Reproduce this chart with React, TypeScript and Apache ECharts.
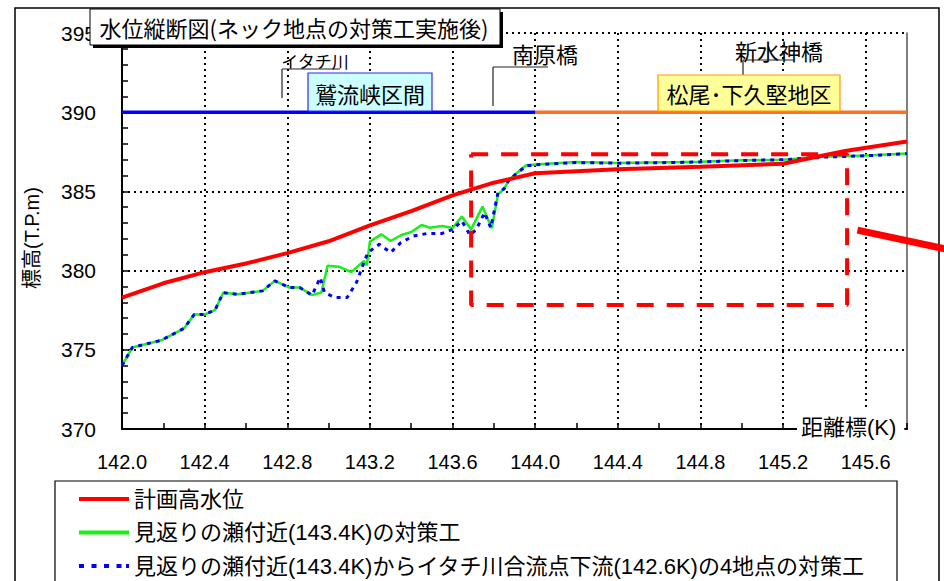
import React, { useEffect, useRef } from 'react';
import * as echarts from 'echarts';

// Axis ranges / tick spacing
const X_MIN = 142.0;
const X_MAX = 145.8;
const X_STEP = 0.4;
const Y_MIN = 370;
const Y_MAX = 395;
const Y_STEP = 5;

const SERIES_NAMES = [
  '計画高水位',
  '見返りの瀬付近(143.4K)の対策工',
  '見返りの瀬付近(143.4K)からイタチ川合流点下流(142.6K)の4地点の対策工',
];

// 計画高水位
const planK = [142.0, 142.2, 142.4, 142.6, 142.8, 143.0, 143.2, 143.4, 143.6, 143.8, 144.0, 144.4, 144.8, 145.2, 145.5, 145.8];
const planV = [378.3, 379.2, 379.9, 380.45, 381.1, 381.85, 382.85, 383.75, 384.75, 385.55, 386.15, 386.4, 386.55, 386.75, 387.55, 388.15];

// 見返りの瀬付近(143.4K)の対策工
const greenK = [142.0, 142.05, 142.19, 142.3, 142.35, 142.4, 142.45, 142.49, 142.56, 142.68, 142.74, 142.81, 142.86, 142.92, 142.965, 142.995, 143.05, 143.11, 143.17, 143.185, 143.2, 143.255, 143.3, 143.35, 143.4, 143.45, 143.49, 143.55, 143.6, 143.645, 143.69, 143.745, 143.79, 143.82, 143.85, 143.875, 143.955, 144.0, 144.2, 144.4, 144.7, 144.8, 145.0, 145.2, 145.39, 145.6, 145.8];
const greenV = [374.0, 375.15, 375.6, 376.35, 377.23, 377.23, 377.5, 378.6, 378.5, 378.72, 379.35, 378.93, 378.93, 378.45, 378.62, 380.3, 380.25, 379.9, 380.6, 380.34, 381.83, 382.29, 381.87, 382.23, 382.44, 382.88, 382.71, 382.81, 382.69, 383.41, 382.6, 384.04, 382.67, 384.81, 385.17, 385.76, 386.64, 386.7, 386.85, 386.8, 386.85, 386.87, 386.97, 387.0, 387.18, 387.27, 387.4];

// 見返りの瀬付近(143.4K)からイタチ川合流点下流(142.6K)の4地点の対策工
const blueK = [142.0, 142.05, 142.19, 142.3, 142.35, 142.4, 142.45, 142.49, 142.56, 142.68, 142.74, 142.81, 142.86, 142.92, 142.96, 142.98, 143.03, 143.09, 143.135, 143.165, 143.19, 143.245, 143.3, 143.35, 143.41, 143.48, 143.55, 143.6, 143.645, 143.685, 143.715, 143.755, 143.785, 143.82, 143.85, 143.875, 143.955, 144.0, 144.2, 144.4, 144.7, 144.8, 145.0, 145.2, 145.39, 145.6, 145.8];
const blueV = [374.0, 375.15, 375.6, 376.35, 377.23, 377.23, 377.5, 378.6, 378.5, 378.72, 379.35, 378.93, 378.93, 378.45, 379.56, 378.62, 378.3, 378.3, 379.25, 380.3, 381.14, 381.66, 381.14, 381.77, 382.18, 382.35, 382.35, 382.6, 383.13, 382.23, 382.6, 383.66, 382.71, 384.92, 385.17, 385.76, 386.6, 386.68, 386.82, 386.78, 386.83, 386.86, 386.95, 387.0, 387.16, 387.25, 387.38];

// Section bands at elevation 390
const SECTION_LEVEL = 390;
const sectionBlueK = [142.0, 144.0];
const sectionOrangeK = [144.0, 145.8];

// Red dashed focus box and pointer
const focusBoxK = [143.69, 145.51];
const focusBoxV = [377.83, 387.34];
const pointerK = [145.56, 146.01];
const pointerV = [382.56, 381.3];

const zip = (k: number[], v: number[]) => k.map((x, i) => [x, v[i]]);

const FONT = "'Liberation Sans', 'Noto Sans CJK JP', sans-serif";
const JP = "'Noto Sans CJK JP', 'Liberation Sans', sans-serif";

const DOTTED_ICON = 'path://M0 0h5v4h-5zM12.5 0h5v4h-5zM25 0h5v4h-5zM37.5 0h5v4h-5zM47 0h3v4h-3z';

export default function App() {
  const ref = useRef<HTMLDivElement>(null);

  useEffect(() => {
    document.body.style.margin = '0';
    if (!ref.current) return;
    const chart = echarts.init(ref.current, null, { renderer: 'svg' });

    const dotted = { color: '#000', width: 2, type: [2, 4] as any };
    const box = [
      [focusBoxK[0], focusBoxV[1]],
      [focusBoxK[1], focusBoxV[1]],
      [focusBoxK[1], focusBoxV[0]],
      [focusBoxK[0], focusBoxV[0]],
      [focusBoxK[0], focusBoxV[1]],
    ];

    const txt = (x: number, y: number, text: string, fontSize: number, extra: any = {}, el: any = {}) => ({
      type: 'text',
      z: 100,
      x,
      y,
      ...el,
      style: {
        text,
        fontSize,
        fontFamily: JP,
        fill: '#000',
        align: 'center',
        verticalAlign: 'middle',
        ...extra,
      },
    });
    const ln = (x1: number, y1: number, x2: number, y2: number) => ({
      type: 'line',
      z: 100,
      shape: { x1, y1, x2, y2 },
      style: { stroke: '#222', lineWidth: 1.2 },
    });

    const graphics: any[] = [
      { type: 'rect', z: 100, shape: { x: 15, y: 8, width: 924, height: 620 }, style: { fill: 'none', stroke: '#000', lineWidth: 1.5 } },
      // title box with shadow
      { type: 'rect', z: 100, shape: { x: 93, y: 12, width: 410, height: 36 }, style: { fill: '#000' } },
      { type: 'rect', z: 101, shape: { x: 90, y: 9, width: 410, height: 36 }, style: { fill: '#fff', stroke: '#000', lineWidth: 1 } },
      { ...txt(294, 27, '水位縦断図(ネック地点の対策工実施後)', 22), z: 102 },
      // イタチ川
      txt(315, 60, 'イタチ川', 17),
      ln(282, 69, 340, 69),
      ln(282, 69, 282, 98),
      // 鷲流峡区間
      { type: 'rect', z: 100, shape: { x: 308, y: 73, width: 124, height: 38 }, style: { fill: '#ccffff', stroke: '#2a2aff', lineWidth: 1.2 } },
      txt(370, 93, '鷲流峡区間', 22),
      // 南原橋
      txt(545, 53, '南原橋', 22),
      ln(493, 67, 548, 67),
      ln(493, 67, 493, 106),
      // 新水神橋
      txt(779, 50, '新水神橋', 22),
      ln(743, 60, 795, 60),
      ln(743, 60, 743, 77),
      // 松尾･下久堅地区
      { type: 'rect', z: 100, shape: { x: 658, y: 75, width: 182, height: 36 }, style: { fill: '#ffff99', stroke: '#ff9900', lineWidth: 1.2 } },
      txt(749, 93, '松尾･下久堅地区', 22),
      // x-axis name
      {
        type: 'text',
        z: 100,
        x: 797,
        y: 427,
        style: {
          text: '距離標(K)',
          fontSize: 22,
          fontFamily: FONT,
          fill: '#000',
          align: 'left',
          verticalAlign: 'middle',
          backgroundColor: '#fff',
          padding: [12, 8, 3, 4],
        },
      },
      // legend box
      { type: 'rect', z: 100, shape: { x: 55, y: 481, width: 842, height: 140 }, style: { fill: 'none', stroke: '#000', lineWidth: 1.2 } },
    ];

    const option: any = {
      animation: false,
      textStyle: { fontFamily: FONT },
      grid: { left: 122, right: 37, top: 33, bottom: 152 },
      legend: {
        data: [
          { name: SERIES_NAMES[0], icon: 'rect' },
          { name: SERIES_NAMES[1], icon: 'rect' },
          { name: SERIES_NAMES[2], icon: DOTTED_ICON },
        ],
        orient: 'vertical',
        left: 79,
        top: 488,
        height: 120,
        padding: 0,
        itemWidth: 50,
        itemHeight: 4,
        itemGap: 11.5,
        itemStyle: { borderWidth: 0 },
        textStyle: { fontSize: 22, color: '#000', fontFamily: FONT },
        selectedMode: false,
      },
      xAxis: {
        type: 'value',
        min: X_MIN,
        max: X_MAX,
        interval: X_STEP,
        axisLine: { show: true, onZero: false, lineStyle: { color: '#000', width: 2 } },
        axisTick: { show: true, inside: true, length: 6, lineStyle: { color: '#000', width: 1.5 } },
        minorTick: { show: true, splitNumber: 2, length: 6, lineStyle: { color: '#000', width: 1.5 } },
        axisLabel: {
          fontSize: 20,
          color: '#000',
          margin: 23,
          fontFamily: FONT,
          showMaxLabel: false,
          formatter: (v: number) => v.toFixed(1),
        },
        splitLine: { show: true, showMinLine: false, showMaxLine: false, lineStyle: dotted },
      },
      yAxis: [
        {
          type: 'value',
          min: Y_MIN,
          max: Y_MAX,
          interval: Y_STEP,
          axisLine: { show: true, lineStyle: { color: '#000', width: 2 } },
          axisTick: { show: true, inside: true, length: 6, lineStyle: { color: '#000', width: 1.5 } },
          minorTick: { show: true, splitNumber: 5, length: 6, lineStyle: { color: '#000', width: 1.5 } },
          axisLabel: { fontSize: 21, color: '#000', margin: 26, fontFamily: FONT },
          splitLine: { show: true, showMinLine: false, lineStyle: dotted },
          name: '標高(T.P.m)',
          nameLocation: 'middle',
          nameGap: 80,
          nameRotate: 90,
          nameTextStyle: { fontSize: 20, color: '#000', fontFamily: FONT, padding: [0, 14, 0, 0] },
        },
        {
          type: 'value',
          position: 'right',
          min: Y_MIN,
          max: Y_MAX,
          interval: Y_STEP,
          axisLine: { show: true, lineStyle: { color: '#555', width: 1.5 } },
          axisTick: { show: false },
          axisLabel: { show: false },
          splitLine: { show: false },
        },
      ],
      series: [
        {
          name: 'section-blue',
          type: 'line',
          data: zip(sectionBlueK, sectionBlueK.map(() => SECTION_LEVEL)),
          symbol: 'none',
          silent: true,
          lineStyle: { color: '#0000ff', width: 3.5 },
          z: 3,
        },
        {
          name: 'section-orange',
          type: 'line',
          data: zip(sectionOrangeK, sectionOrangeK.map(() => SECTION_LEVEL)),
          symbol: 'none',
          silent: true,
          lineStyle: { color: '#ff7020', width: 3.5 },
          z: 3,
        },
        {
          name: SERIES_NAMES[1],
          type: 'line',
          data: zip(greenK, greenV),
          symbol: 'none',
          itemStyle: { color: '#19f019' },
          lineStyle: { color: '#19f019', width: 2.5 },
          z: 4,
        },
        {
          name: SERIES_NAMES[2],
          type: 'line',
          data: zip(blueK, blueV),
          symbol: 'none',
          itemStyle: { color: '#0000ff' },
          lineStyle: { color: '#0000ff', width: 3, type: [4, 5] },
          z: 5,
        },
        {
          name: SERIES_NAMES[0],
          type: 'line',
          data: zip(planK, planV),
          symbol: 'none',
          itemStyle: { color: '#ff0000' },
          lineStyle: { color: '#ff0000', width: 4 },
          z: 6,
        },
        {
          name: 'focus-box',
          type: 'line',
          data: box,
          symbol: 'none',
          silent: true,
          lineStyle: { color: '#ff0000', width: 4, type: [17, 13] },
          z: 7,
        },
      ],
      graphic: graphics,
    };

    chart.setOption(option);

    // pointer arrow placed through the chart's own scales
    const p1 = chart.convertToPixel({ xAxisIndex: 0, yAxisIndex: 0 }, [pointerK[0], pointerV[0]]) as number[];
    const p2 = chart.convertToPixel({ xAxisIndex: 0, yAxisIndex: 0 }, [pointerK[1], pointerV[1]]) as number[];
    if (p1 && p2) {
      chart.setOption({
        graphic: [
          ...graphics,
          {
            type: 'line',
            z: 110,
            shape: { x1: p1[0], y1: p1[1], x2: p2[0], y2: p2[1] },
            style: { stroke: '#ff0000', lineWidth: 7, lineCap: 'butt' },
          },
        ],
      });
    }
    return () => chart.dispose();
  }, []);

  return <div ref={ref} style={{ width: 944, height: 581 }} />;
}
